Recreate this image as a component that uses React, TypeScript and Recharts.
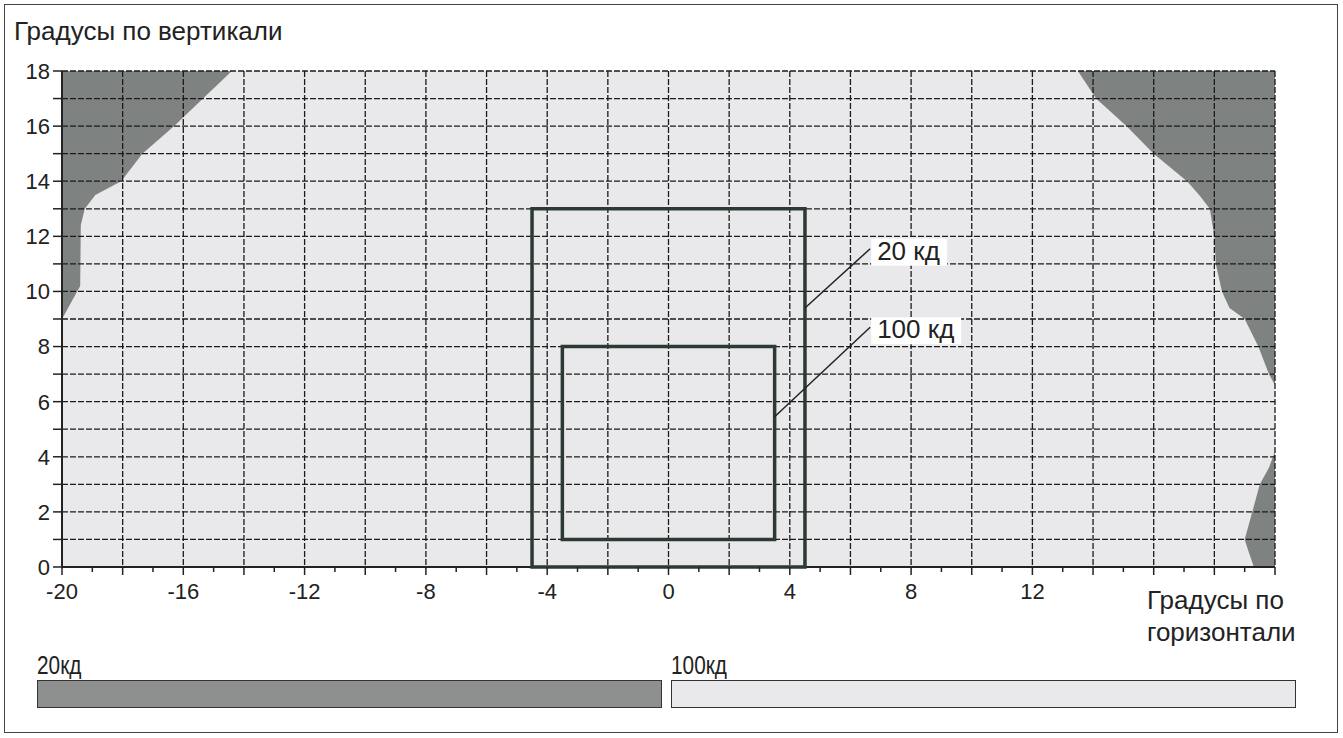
import {
  Area,
  CartesianGrid,
  ComposedChart,
  ReferenceArea,
  ReferenceDot,
  ReferenceLine,
  XAxis,
  YAxis,
} from "recharts";

const FONT = "'Liberation Sans', Arial, sans-serif";
const INK = "#222";
const DARK = "#7e8280";
const DARK_KEY = "#8d908e";
const LIGHT = "#e9e9eb";
const FRAME = "#2c3a33";

const X_MIN = -20;
const X_MAX = 20;
const Y_MIN = 0;
const Y_MAX = 18;

const X_TICKS = [
  -20, -19, -18, -17, -16, -15, -14, -13, -12, -11, -10, -9, -8, -7, -6, -5, -4, -3, -2, -1, 0,
  1, 2, 3, 4, 5, 6, 7, 8, 9, 10, 11, 12, 13, 14, 15, 16, 17, 18, 19, 20,
];
const X_LABELS = [-20, -16, -12, -8, -4, 0, 4, 8, 12];
const Y_TICKS = [0, 1, 2, 3, 4, 5, 6, 7, 8, 9, 10, 11, 12, 13, 14, 15, 16, 17, 18];
const Y_LABELS = [0, 2, 4, 6, 8, 10, 12, 14, 16, 18];
const GRID_X = [-18, -16, -14, -12, -10, -8, -6, -4, -2, 0, 2, 4, 6, 8, 10, 12, 14, 16, 18, 20];
const GRID_Y = [1, 2, 3, 4, 5, 6, 7, 8, 9, 10, 11, 12, 13, 14, 15, 16, 17, 18];

// 20 кд zone, upper-left corner: lower edge per x (runs up to Y_MAX)
const LEFT_X = [-20, -19.8, -19.4, -19.38, -19.25, -18.9, -18.05, -17.35, -16.3, -15.35, -14.4];
const LEFT_LOW = [9, 9.4, 10.2, 12.4, 13, 13.5, 14, 15, 16, 17, 18];

// 20 кд zone, upper-right corner
const RIGHT_X = [13.5, 14.1, 15.1, 16.0, 17.1, 17.5, 17.85, 18.0, 18.05, 18.25, 18.5, 19.0, 19.45, 19.8, 20];
const RIGHT_LOW = [18, 17, 16, 15, 14, 13.5, 13, 12, 11, 10, 9.4, 9, 8, 7, 6.6];

// 20 кд zone, lower-right corner
const FOOT_X = [19.0, 19.1, 19.25, 19.3, 19.5, 19.8, 20];
const FOOT_LOW = [1, 0.65, 0.17, 0, 0, 0, 0];
const FOOT_HIGH = [1, 1.4, 2, 2.2, 3, 3.6, 4.2];

const ZONE_NAMES = ["20 кд", "100 кд"];
const ZONE_X = [[-4.5, 4.5], [-3.5, 3.5]];
const ZONE_Y = [[0, 13], [1, 8]];
const CALLOUT_START = [[4.5, 9.4], [3.5, 5.45]];
const CALLOUT_END = [[6.65, 11.55], [6.65, 8.7]];

const LEGEND_NAMES = ["20кд", "100кд"];
const LEGEND_FILLS = [DARK_KEY, LIGHT];

const leftBand = LEFT_X.map((x, i) => ({ x, band: [LEFT_LOW[i], Y_MAX] }));
const rightBand = RIGHT_X.map((x, i) => ({ x, band: [RIGHT_LOW[i], Y_MAX] }));
const footBand = FOOT_X.map((x, i) => ({ x, band: [FOOT_LOW[i], FOOT_HIGH[i]] }));

function XTick({ x, y, payload }: any) {
  const v = payload.value;
  return (
    <g>
      <line x1={x} x2={x} y1={y} y2={y + (v % 2 === 0 ? 8 : 5)} stroke={INK} strokeWidth={1.5} />
      {X_LABELS.includes(v) && (
        <text x={x} y={y + 32} textAnchor="middle" fontSize={22} fill={INK} fontFamily={FONT}>
          {v}
        </text>
      )}
    </g>
  );
}

function YTick({ x, y, payload }: any) {
  const v = payload.value;
  return (
    <g>
      <line x1={x - 9} x2={x} y1={y} y2={y} stroke={INK} strokeWidth={1.5} />
      {Y_LABELS.includes(v) && (
        <text x={x - 12} y={y} dy="0.36em" textAnchor="end" fontSize={22} fill={INK} fontFamily={FONT}>
          {v}
        </text>
      )}
    </g>
  );
}

// white tag at the outer end of a leader line
function Tag({ cx, cy, text }: any) {
  const w = text.length * 14 + 6;
  return (
    <g>
      <rect x={cx + 1} y={cy - 10} width={w} height={27} fill="#fff" />
      <text x={cx + 7} y={cy + 11} fontSize={26} fill={INK} fontFamily={FONT}>
        {text}
      </text>
    </g>
  );
}

export default function App() {
  return (
    <div
      style={{
        position: "absolute",
        left: 0,
        top: 0,
        width: 1343,
        height: 738,
        background: "#fff",
        fontFamily: FONT,
        color: INK,
      }}
    >
      <div
        style={{
          position: "absolute",
          left: 4,
          top: 4,
          width: 1332,
          height: 727,
          border: "1.5px solid #444",
        }}
      />
      <div style={{ position: "absolute", left: 14, top: 16, fontSize: 26 }}>Градусы по вертикали</div>
      <div style={{ position: "absolute", left: 1147, top: 584, fontSize: 26, lineHeight: "32px" }}>
        Градусы по
        <br />
        горизонтали
      </div>

      <div style={{ position: "absolute", left: 0, top: 0 }}>
        <ComposedChart width={1343} height={640} margin={{ top: 71, right: 68, bottom: 33, left: 6 }}>
          <CartesianGrid horizontal={false} vertical={false} fill={LIGHT} fillOpacity={1} />
          <XAxis
            type="number"
            dataKey="x"
            domain={[X_MIN, X_MAX]}
            ticks={X_TICKS}
            interval={0}
            allowDataOverflow
            height={40}
            tickSize={0}
            tickMargin={0}
            tickLine={false}
            axisLine={{ stroke: INK, strokeWidth: 2 }}
            tick={<XTick />}
          />
          <YAxis
            type="number"
            domain={[Y_MIN, Y_MAX]}
            ticks={Y_TICKS}
            interval={0}
            allowDataOverflow
            width={56}
            tickSize={0}
            tickMargin={0}
            tickLine={false}
            axisLine={{ stroke: INK, strokeWidth: 2 }}
            tick={<YTick />}
          />
          <Area data={leftBand} dataKey="band" type="linear" stroke="none" fill={DARK} fillOpacity={1} dot={false} activeDot={false} isAnimationActive={false} />
          <Area data={rightBand} dataKey="band" type="linear" stroke="none" fill={DARK} fillOpacity={1} dot={false} activeDot={false} isAnimationActive={false} />
          <Area data={footBand} dataKey="band" type="linear" stroke="none" fill={DARK} fillOpacity={1} dot={false} activeDot={false} isAnimationActive={false} />
          <CartesianGrid
            verticalValues={GRID_X}
            horizontalValues={GRID_Y}
            stroke="#1b1b1b"
            strokeWidth={1.3}
            strokeDasharray="6 2"
            zIndex={150}
          />
          {ZONE_NAMES.map((name, i) => (
            <ReferenceArea
              key={name}
              x1={ZONE_X[i][0]}
              x2={ZONE_X[i][1]}
              y1={ZONE_Y[i][0]}
              y2={ZONE_Y[i][1]}
              fill="none"
              fillOpacity={0}
              stroke={FRAME}
              strokeWidth={3.5}
              zIndex={600}
            />
          ))}
          {ZONE_NAMES.map((name, i) => (
            <ReferenceLine
              key={"l" + name}
              segment={[
                { x: CALLOUT_START[i][0], y: CALLOUT_START[i][1] },
                { x: CALLOUT_END[i][0], y: CALLOUT_END[i][1] },
              ]}
              stroke={INK}
              strokeWidth={1.5}
              zIndex={600}
            />
          ))}
          {ZONE_NAMES.map((name, i) => (
            <ReferenceDot
              key={"t" + name}
              x={CALLOUT_END[i][0]}
              y={CALLOUT_END[i][1]}
              r={0}
              zIndex={650}
              shape={(p: any) => <Tag cx={p.cx} cy={p.cy} text={name} />}
            />
          ))}
        </ComposedChart>
      </div>

      {LEGEND_NAMES.map((name, i) => (
        <div key={name}>
          <div
            style={{
              position: "absolute",
              left: 37 + i * 634,
              top: 650,
              fontSize: 26,
              transform: "scaleX(0.8)",
              transformOrigin: "left",
            }}
          >
            {name}
          </div>
          <div
            style={{
              position: "absolute",
              left: 37 + i * 634,
              top: 680,
              width: 623,
              height: 26,
              background: LEGEND_FILLS[i],
              border: "1.5px solid #333",
            }}
          />
        </div>
      ))}
    </div>
  );
}
